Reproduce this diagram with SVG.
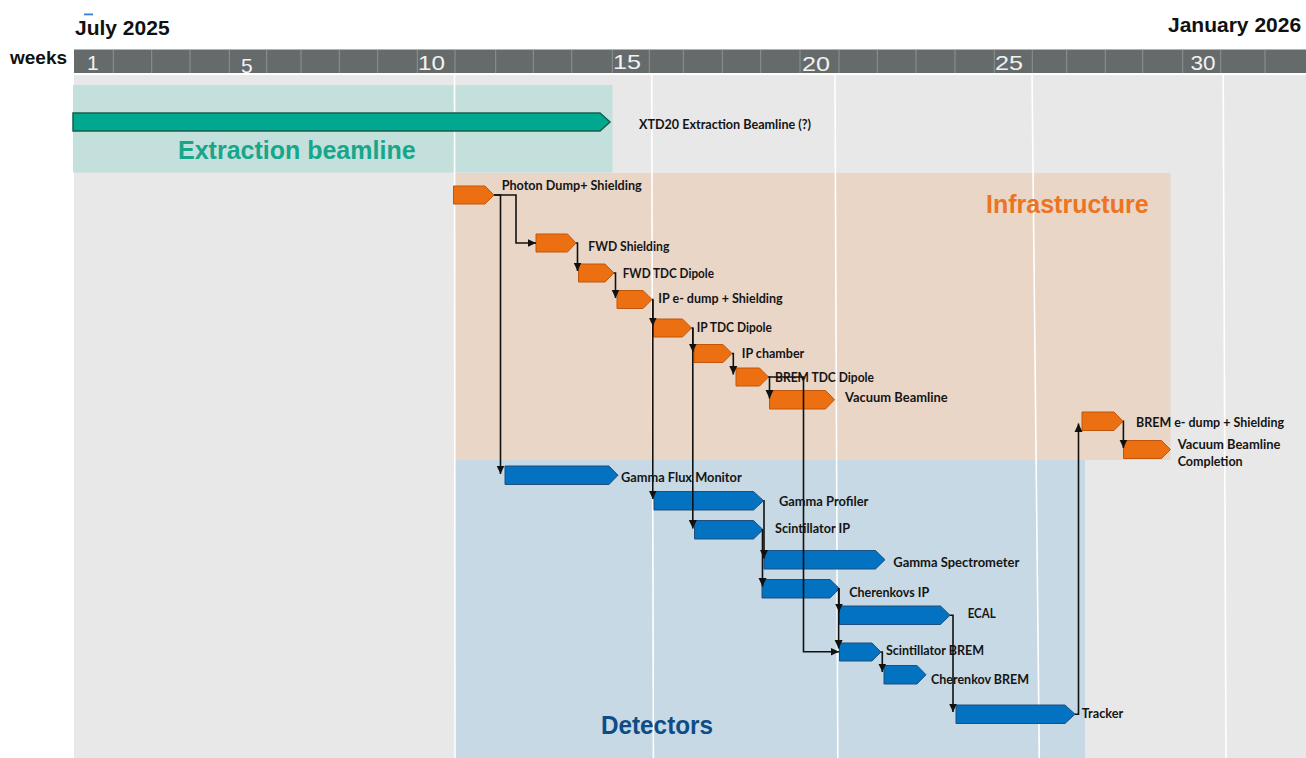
<svg xmlns="http://www.w3.org/2000/svg" width="1306" height="758" viewBox="0 0 1306 758">
  <defs>
    <marker id="arrow" markerUnits="userSpaceOnUse" markerWidth="9" markerHeight="9" viewBox="0 0 9 9" refX="8.5" refY="4.5" orient="auto">
      <path d="M0,0.5 L8.5,4.5 L0,8.5 Z" fill="#111"/>
    </marker>
    <style>
      .title { font-family: "Liberation Sans", Arial, sans-serif; font-weight: 700; fill: #111; }
      .wk { font-family: "Liberation Sans", Arial, sans-serif; font-size: 21px; fill: #f2f2f2; }
      .div { stroke: #8e9292; stroke-width: 1; }
      .grid { stroke: #ffffff; stroke-width: 1.6; }
      .area { font-family: "Liberation Sans", Arial, sans-serif; font-weight: 700; font-size: 25px; }
      .lbl { font-family: Lato, "Liberation Sans", sans-serif; font-weight: 700; font-size: 13.6px; fill: #151515; }
      .org { fill: #ec6f12; stroke: #c0560b; stroke-width: 1; }
      .blu { fill: #0272c1; stroke: #1f4f7f; stroke-width: 1; }
      .grn { fill: #00a88f; stroke: #175f4d; stroke-width: 1.5; }
      .link { fill: none; stroke: #111; stroke-width: 1.6; }
    </style>
  </defs>

  <!-- page -->
  <rect x="0" y="0" width="1306" height="758" fill="#ffffff"/>

  <!-- titles -->
  <rect x="84" y="13.5" width="9" height="1.8" fill="#3a7bd5"/>
  <text class="title" x="75" y="34.5" font-size="21">July 2025</text>
  <text class="title" x="1168" y="32" font-size="21">January 2026</text>
  <text class="title" x="10" y="63.5" font-size="19">weeks</text>

  <!-- week header -->
  <g id="week-header">
    <rect x="74" y="49.5" width="1232" height="23.5" fill="#656a6a"/>
    <g class="div">
      <line x1="113.3" y1="50" x2="113.3" y2="73"/>
      <line x1="151.7" y1="50" x2="151.7" y2="73"/>
      <line x1="190" y1="50" x2="190" y2="73"/>
      <line x1="229.3" y1="50" x2="229.3" y2="73"/>
      <line x1="266.7" y1="50" x2="266.7" y2="73"/>
      <line x1="301" y1="50" x2="301" y2="73"/>
      <line x1="339.3" y1="50" x2="339.3" y2="73"/>
      <line x1="377.7" y1="50" x2="377.7" y2="73"/>
      <line x1="417.3" y1="50" x2="417.3" y2="73"/>
      <line x1="455" y1="50" x2="455" y2="73"/>
      <line x1="495.7" y1="50" x2="495.7" y2="73"/>
      <line x1="533.3" y1="50" x2="533.3" y2="73"/>
      <line x1="571.7" y1="50" x2="571.7" y2="73"/>
      <line x1="612.3" y1="50" x2="612.3" y2="73"/>
      <line x1="649.3" y1="50" x2="649.3" y2="73"/>
      <line x1="683.3" y1="50" x2="683.3" y2="73"/>
      <line x1="722.3" y1="50" x2="722.3" y2="73"/>
      <line x1="760.7" y1="50" x2="760.7" y2="73"/>
      <line x1="800" y1="50" x2="800" y2="73"/>
      <line x1="839" y1="50" x2="839" y2="73"/>
      <line x1="877.3" y1="50" x2="877.3" y2="73"/>
      <line x1="916" y1="50" x2="916" y2="73"/>
      <line x1="955" y1="50" x2="955" y2="73"/>
      <line x1="994.3" y1="50" x2="994.3" y2="73"/>
      <line x1="1032.3" y1="50" x2="1032.3" y2="73"/>
      <line x1="1066.7" y1="50" x2="1066.7" y2="73"/>
      <line x1="1105.3" y1="50" x2="1105.3" y2="73"/>
      <line x1="1142.7" y1="50" x2="1142.7" y2="73"/>
      <line x1="1182.7" y1="50" x2="1182.7" y2="73"/>
      <line x1="1220.7" y1="50" x2="1220.7" y2="73"/>
      <line x1="1265" y1="50" x2="1265" y2="73"/>
    </g>
    <text class="wk" x="87" y="70">1</text>
    <text class="wk" x="241" y="72.5">5</text>
    <text class="wk" x="418" y="70" textLength="27" lengthAdjust="spacingAndGlyphs">10</text>
    <text class="wk" x="613" y="68.5" textLength="28" lengthAdjust="spacingAndGlyphs">15</text>
    <text class="wk" x="802" y="70.5" textLength="28" lengthAdjust="spacingAndGlyphs">20</text>
    <text class="wk" x="995" y="69.5" textLength="28" lengthAdjust="spacingAndGlyphs">25</text>
    <text class="wk" x="1190.5" y="70" textLength="25" lengthAdjust="spacingAndGlyphs">30</text>
  </g>

  <!-- chart body and work-package areas -->
  <rect x="74" y="75" width="1232" height="683" fill="#e7e8e7"/>
  <rect id="area-extraction" x="73" y="85" width="539.5" height="87.5" fill="#c4e0dc"/>
  <rect id="area-infrastructure" x="454" y="173" width="716.5" height="287" fill="#e9d6c7"/>
  <rect id="area-detectors" x="454" y="460" width="631" height="298" fill="#c6d9e4"/>

  <!-- five-week grid lines -->
  <g class="grid">
    <line x1="454.5" y1="75" x2="455" y2="758"/>
    <line x1="651.7" y1="75" x2="653.4" y2="758"/>
    <line x1="835" y1="75" x2="837.8" y2="758"/>
    <line x1="1032" y1="75" x2="1039.3" y2="758"/>
    <line x1="1223.2" y1="75" x2="1226" y2="758"/>
  </g>

  <text class="area" x="178" y="158.5" fill="#17a68a">Extraction beamline</text>
  <text class="area" x="986" y="213" fill="#ec7422">Infrastructure</text>
  <text class="area" x="601" y="734" fill="#0e4c86" textLength="112" lengthAdjust="spacingAndGlyphs">Detectors</text>

  <!-- extraction beamline task -->
  <g id="xtd20">
    <path class="grn" d="M73,113 H600 L610,122 L600,131 H73 Z"/>
    <text class="lbl" x="639" y="128.5" textLength="172" lengthAdjust="spacingAndGlyphs">XTD20 Extraction Beamline (?)</text>
  </g>

  <!-- infrastructure tasks -->
  <g id="photon-dump">
    <path class="org" d="M453.5,186 H485 L494,195 L485,204 H453.5 Z"/>
    <text class="lbl" x="501.7" y="189.5" textLength="140" lengthAdjust="spacingAndGlyphs">Photon Dump+ Shielding</text>
  </g>
  <g id="fwd-shielding">
    <path class="org" d="M536,234 H567.5 L576,243 L567.5,252 H536 Z"/>
    <text class="lbl" x="588.3" y="250.7" textLength="81" lengthAdjust="spacingAndGlyphs">FWD Shielding</text>
  </g>
  <g id="fwd-tdc-dipole">
    <path class="org" d="M578.5,264 H605 L614,273 L605,282 H578.5 Z"/>
    <text class="lbl" x="622.7" y="277.7" textLength="91.3" lengthAdjust="spacingAndGlyphs">FWD TDC Dipole</text>
  </g>
  <g id="ip-e-dump">
    <path class="org" d="M617,290.5 H643 L652,299.5 L643,308.5 H617 Z"/>
    <text class="lbl" x="658.3" y="303.3" textLength="124.4" lengthAdjust="spacingAndGlyphs">IP e- dump + Shielding</text>
  </g>
  <g id="ip-tdc-dipole">
    <path class="org" d="M653.5,319 H682.5 L691.5,328 L682.5,337 H653.5 Z"/>
    <text class="lbl" x="696.7" y="332.3" textLength="75.3" lengthAdjust="spacingAndGlyphs">IP TDC Dipole</text>
  </g>
  <g id="ip-chamber">
    <path class="org" d="M694,344.5 H723 L732,353.5 L723,362.5 H694 Z"/>
    <text class="lbl" x="741.7" y="357.7" textLength="62.6" lengthAdjust="spacingAndGlyphs">IP chamber</text>
  </g>
  <g id="brem-tdc-dipole">
    <path class="org" d="M736,368 H759.5 L768.5,377 L759.5,386 H736 Z"/>
    <text class="lbl" x="775" y="382.3" textLength="99" lengthAdjust="spacingAndGlyphs">BREM TDC Dipole</text>
  </g>
  <g id="vacuum-beamline">
    <path class="org" d="M769.5,390.5 H825.5 L834.5,399.7 L825.5,409 H769.5 Z"/>
    <text class="lbl" x="845" y="401.7" textLength="102.7" lengthAdjust="spacingAndGlyphs">Vacuum Beamline</text>
  </g>
  <g id="brem-e-dump">
    <path class="org" d="M1082,412 H1114 L1123,421.2 L1114,430.5 H1082 Z"/>
    <text class="lbl" x="1136" y="426.7" textLength="148" lengthAdjust="spacingAndGlyphs">BREM e- dump + Shielding</text>
  </g>
  <g id="vacuum-beamline-completion">
    <path class="org" d="M1123.5,440.5 H1161.5 L1170.5,449.5 L1161.5,458.5 H1123.5 Z"/>
    <text class="lbl" x="1177.7" y="449" textLength="102.7" lengthAdjust="spacingAndGlyphs">Vacuum Beamline</text>
    <text class="lbl" x="1177.7" y="466" textLength="65" lengthAdjust="spacingAndGlyphs">Completion</text>
  </g>

  <!-- detector tasks -->
  <g id="gamma-flux-monitor">
    <path class="blu" d="M505,466 H609 L618,475.2 L609,484.5 H505 Z"/>
    <text class="lbl" x="621" y="482.3" textLength="120.7" lengthAdjust="spacingAndGlyphs">Gamma Flux Monitor</text>
  </g>
  <g id="gamma-profiler">
    <path class="blu" d="M654,491.5 H753.5 L763.5,500.7 L753.5,510 H654 Z"/>
    <text class="lbl" x="779" y="506" textLength="89.3" lengthAdjust="spacingAndGlyphs">Gamma Profiler</text>
  </g>
  <g id="scintillator-ip">
    <path class="blu" d="M694.5,520.5 H753.5 L763,529.7 L753.5,539 H694.5 Z"/>
    <text class="lbl" x="775" y="532.7" textLength="75" lengthAdjust="spacingAndGlyphs">Scintillator IP</text>
  </g>
  <g id="gamma-spectrometer">
    <path class="blu" d="M764,550.5 H875.5 L885,559.7 L875.5,569 H764 Z"/>
    <text class="lbl" x="893.3" y="566.7" textLength="126" lengthAdjust="spacingAndGlyphs">Gamma Spectrometer</text>
  </g>
  <g id="cherenkovs-ip">
    <path class="blu" d="M762,579.5 H830 L839.5,588.7 L830,598 H762 Z"/>
    <text class="lbl" x="849.3" y="596.7" textLength="80" lengthAdjust="spacingAndGlyphs">Cherenkovs IP</text>
  </g>
  <g id="ecal">
    <path class="blu" d="M839.5,606 H940.5 L950,615.2 L940.5,624.5 H839.5 Z"/>
    <text class="lbl" x="967.7" y="618.3" textLength="28" lengthAdjust="spacingAndGlyphs">ECAL</text>
  </g>
  <g id="scintillator-brem">
    <path class="blu" d="M839.5,643 H872 L881,652 L872,661 H839.5 Z"/>
    <text class="lbl" x="886" y="655.3" textLength="98" lengthAdjust="spacingAndGlyphs">Scintillator BREM</text>
  </g>
  <g id="cherenkov-brem">
    <path class="blu" d="M884,665.5 H917 L926,674.7 L917,684 H884 Z"/>
    <text class="lbl" x="931" y="684.3" textLength="98" lengthAdjust="spacingAndGlyphs">Cherenkov BREM</text>
  </g>
  <g id="tracker">
    <path class="blu" d="M956,705 H1065 L1075,714.2 L1065,723.5 H956 Z"/>
    <text class="lbl" x="1081.7" y="717.7" textLength="41.6" lengthAdjust="spacingAndGlyphs">Tracker</text>
  </g>

  <!-- finish-to-start dependencies -->
  <g id="connectors" class="link" marker-end="url(#arrow)">
    <path d="M494,195 H516 V243 H536"/>
    <path d="M494,195 H500.5 V474"/>
    <path d="M576,243 H577.5 V271"/>
    <path d="M614,273 H615.5 V298"/>
    <path d="M652,299.5 H652.8 V326"/>
    <path d="M652.8,299.5 V499"/>
    <path d="M691.5,328 H692.8 V352"/>
    <path d="M692.8,328 V528.5"/>
    <path d="M732,353.5 H733.3 V374.5"/>
    <path d="M768.5,377 H769.5 V398.5"/>
    <path d="M768.5,377 H803.5 V651.7 H839"/>
    <path d="M1123,421.2 H1123.4 V448"/>
    <path d="M1075,714.2 H1078.5 V423.5"/>
    <path d="M763.5,500.7 H764 V558.5"/>
    <path d="M763,529.7 H762.5 V586.5"/>
    <path d="M839.5,588.7 H839 V612"/>
    <path d="M839,588.7 H838.6 V648.5"/>
    <path d="M881,652 H882.3 V672"/>
    <path d="M950,615.2 H953 V712"/>
  </g>
</svg>
